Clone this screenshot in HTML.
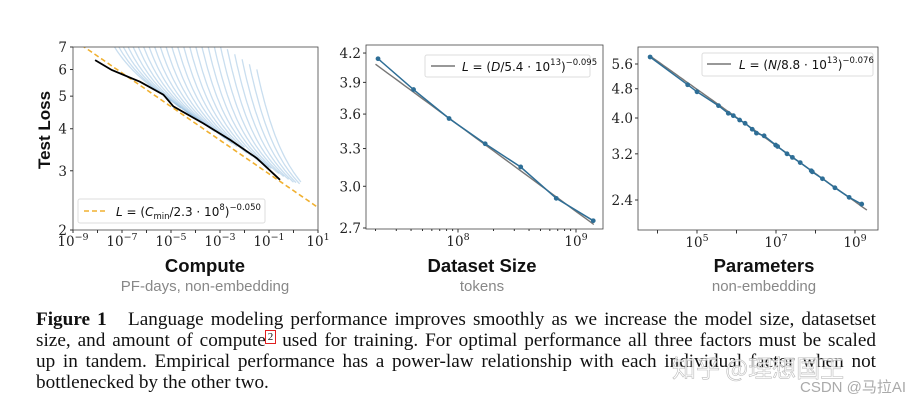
<!DOCTYPE html>
<html><head><meta charset="utf-8"><style>
body{margin:0;background:#fff;width:917px;height:402px;overflow:hidden;position:relative;font-family:"Liberation Sans",sans-serif}
svg{position:absolute;left:0;top:0}
.cap{position:absolute;left:36px;width:840px;font-family:"Liberation Serif",serif;font-size:19.2px;color:#111;white-space:nowrap;line-height:21px}
.j{text-align:justify;text-align-last:justify}
</style></head><body>
<svg id="s" width="917" height="402" font-family="DejaVu Serif, serif"></svg>
<div class="cap j" style="top:309px"><b>Figure 1</b>&nbsp;&nbsp; Language modeling performance improves smoothly as we increase the model size, datasetset</div>
<div class="cap j" style="top:330px">size, and amount of compute<span style="position:relative;top:-6px;font-size:11px;outline:1.5px solid #e02020;padding:0 2px">2</span> used for training. For optimal performance all three factors must be scaled</div>
<div class="cap j" style="top:351px">up in tandem. Empirical performance has a power-law relationship with each individual factor when not</div>
<div class="cap" style="top:372px">bottlenecked by the other two.</div>
<div style="position:absolute;left:672px;top:349px;font:24px 'Noto Sans CJK SC',sans-serif;color:rgba(255,255,255,0.75);-webkit-text-stroke:0.6px #bbb">知乎 @理想国王</div>
<div style="position:absolute;left:800px;top:376px;font:15px 'Liberation Sans','Noto Sans CJK SC',sans-serif;color:#aaa">CSDN @马拉AI</div>
<script>
// Panel 1 data
const frontierLogC=[-8.1,-7.42,-6.27,-5.31,-4.9,-3.68,-2.59,-1.5,-0.55];
const frontierLoss=[6.4,5.98,5.52,5.05,4.66,4.15,3.71,3.27,2.82];
const curveStart=[-8.7,-8.4,-8.1,-7.8,-7.5,-7.2,-6.9,-6.6,-6.3,-6.0,-5.7,-5.4,-5.1,-4.8,-4.5,-4.2,-3.9,-3.6,-3.3,-3.0,-2.7,-2.4,-2.1,-1.8,-1.5];
const curveEnd=[-5.5,-5.0,-4.6,-4.2,-3.9,-3.6,-3.2,-3.4,-2.8,-2.5,-2.3,-2.6,-1.9,-1.7,-1.4,-2.0,-1.0,-0.9,-0.6,-0.4,-0.2,0.0,0.1,0.25,0.3];
// Panel 2 data
const dataTokens=[2.1e7,4.2e7,8.4e7,1.7e8,3.4e8,6.8e8,1.4e9];
const dataLoss=[4.14,3.83,3.56,3.34,3.15,2.91,2.75];
// Panel 3 data
const paramN=[6.5e3,5.8e4,1e5,3.5e5,6.2e5,8.3e5,1.2e6,1.65e6,2.5e6,3.2e6,5e6,9.8e6,1.1e7,1.9e7,2.6e7,4.1e7,7.8e7,8.3e7,1.5e8,3.1e8,7.1e8,1.48e9];
const paramLoss=[5.85,4.92,4.71,4.32,4.12,4.06,3.95,3.87,3.73,3.64,3.58,3.38,3.35,3.2,3.13,3.03,2.88,2.86,2.74,2.59,2.44,2.34];

const S=document.getElementById('s');const NS='http://www.w3.org/2000/svg';
function el(t,a,txt){const e=document.createElementNS(NS,t);for(const k in a)e.setAttribute(k,a[k]);if(txt!==undefined)e.textContent=txt;S.appendChild(e);return e;}
function lin(pts){return pts.map((p,i)=>(i?'L':'M')+p[0].toFixed(1)+' '+p[1].toFixed(1)).join('');}
function sup(x,y,base,exp,name){const t=el('text',{x:x,y:y,'text-anchor':'middle','font-size':13.5,fill:'#222'});
 const a=document.createElementNS(NS,'tspan');a.textContent=base;t.appendChild(a);const b=document.createElementNS(NS,'tspan');b.setAttribute('dy','-6');b.setAttribute('font-size','9.5');b.textContent=exp;t.appendChild(b);}
function txt(x,y,s,o,name){const t=el('text',Object.assign({x:x,y:y},o),s);return t;}
function legend(x,y,parts,name){const t=el('text',{x:x,y:y,'font-family':'DejaVu Sans, sans-serif','font-size':12,fill:'#111'});
 parts.forEach(p=>{const s=document.createElementNS(NS,'tspan');s.textContent=p[0];
  if(p[1]=='i')s.setAttribute('font-style','italic');
  if(p[1]=='sub'){s.setAttribute('font-size','8.5');s.setAttribute('dy','3');}
  if(p[1]=='sup'){s.setAttribute('font-size','8.5');s.setAttribute('dy','-6');}
  if(p[1]=='back'){s.setAttribute('dy','-3');}
  if(p[1]=='down'){s.setAttribute('dy','6');}
  t.appendChild(s);});}

// ---------- Panel 1 ----------
const p1={l:73,r:318,t:47,b:230};
const x1=lc=>p1.l+(lc+9)/10*(p1.r-p1.l);
const y1=v=>p1.b-Math.log(v/2)/Math.log(3.5)*(p1.b-p1.t);
const cp=el('clipPath',{id:'c1'});const cr=document.createElementNS(NS,'rect');
cr.setAttribute('x',p1.l);cr.setAttribute('y',p1.t);cr.setAttribute('width',p1.r-p1.l);cr.setAttribute('height',p1.b-p1.t);cp.appendChild(cr);
const fit1=lc=>Math.pow(Math.pow(10,lc)/2.3e8,-0.05);
const g1=el('g',{'clip-path':'url(#c1)'});
for(let i=0;i<curveStart.length;i++){const pts=[];for(let c=curveStart[i];c<=curveEnd[i]+1e-6;c+=0.05){const L=fit1(c)*(1.03+0.9*Math.exp(-(c-curveStart[i])/0.7));pts.push([x1(c),y1(L)]);}
 const p=document.createElementNS(NS,'path');p.setAttribute('d',lin(pts));p.setAttribute('fill','none');p.setAttribute('stroke','rgba(100,160,210,0.35)');p.setAttribute('stroke-width','1.3');
 
 g1.appendChild(p);}
{const pts=[];for(let c=-9.2;c<=1;c+=0.1)pts.push([x1(c),y1(fit1(c))]);const p=document.createElementNS(NS,'path');p.setAttribute('d',lin(pts));p.setAttribute('fill','none');p.setAttribute('stroke','#f0b030');p.setAttribute('stroke-width','1.6');p.setAttribute('stroke-dasharray','5 3');
 
 g1.appendChild(p);}
{const p=document.createElementNS(NS,'path');p.setAttribute('d',lin(frontierLogC.map((c,i)=>[x1(c),y1(frontierLoss[i])])));p.setAttribute('fill','none');p.setAttribute('stroke','#000');p.setAttribute('stroke-width','1.8');
 
 g1.appendChild(p);}
el('rect',{x:p1.l,y:p1.t,width:p1.r-p1.l,height:p1.b-p1.t,fill:'none',stroke:'#444','stroke-width':0.8,});
[2,3,4,5,6,7].forEach(v=>{el('line',{x1:p1.l-3,x2:p1.l,y1:y1(v),y2:y1(v),stroke:'#333'});txt(p1.l-6,y1(v)+5,String(v),{'text-anchor':'end','font-size':13.5,fill:'#222'},'y-tick-compute');});
for(let d=-9;d<=1;d++){el('line',{x1:x1(d),x2:x1(d),y1:p1.b,y2:p1.b+3,stroke:'#333'});if((d+9)%2==0)sup(x1(d),p1.b+16,'10',String(d).replace('-','\u2212'),'x-tick-compute');}
el('rect',{x:78,y:199,width:187,height:24,fill:'#fff',stroke:'#ddd',rx:2,});
el('line',{x1:84,x2:108,y1:211,y2:211,stroke:'#f0b030','stroke-width':1.6,'stroke-dasharray':'5 3'});
legend(116,216,[['L','i'],[' = (','n'],['C','i'],['min','sub'],['/2.3 · 10','back'],['8','sup'],[')','down'],['\u22120.050','sup']],'legend-text-compute');
txt(50,130,'Test Loss',{'font-family':'Liberation Sans, sans-serif','font-size':17,'font-weight':'bold','text-anchor':'middle',transform:'rotate(-90 50 130)',fill:'#111'},'y-axis-title');
txt(205,272,'Compute',{'font-family':'Liberation Sans, sans-serif','font-size':18.5,'font-weight':'bold','text-anchor':'middle',fill:'#111'},'x-axis-title-compute');
txt(205,291,'PF-days, non-embedding',{'font-family':'Liberation Sans, sans-serif','font-size':15,'text-anchor':'middle',fill:'#888'},'x-axis-subtitle-compute');

// ---------- Panel 2 ----------
const p2={l:366,r:603,t:45,b:229};
const x2=v=>458+(Math.log10(v)-8)*118;
const y2=v=>228-Math.log(v/2.7)*396;
el('rect',{x:p2.l,y:p2.t,width:p2.r-p2.l,height:p2.b-p2.t,fill:'none',stroke:'#444','stroke-width':0.8,});
{const pts=[];for(let l=Math.log10(2e7);l<=Math.log10(1.45e9);l+=0.05){const D=Math.pow(10,l);pts.push([x2(D),y2(Math.pow(D/5.4e13,-0.095))]);}el('path',{d:lin(pts),fill:'none',stroke:'#777','stroke-width':1.4,});}
el('path',{d:lin(dataTokens.map((d,i)=>[x2(d),y2(dataLoss[i])])),fill:'none',stroke:'#2e6e96','stroke-width':1.5,});
dataTokens.forEach((d,i)=>{el('circle',{cx:x2(d),cy:y2(dataLoss[i]),r:2.4,fill:'#2e6e96',});});
[2.7,3.0,3.3,3.6,3.9,4.2].forEach(v=>{el('line',{x1:p2.l-3,x2:p2.l,y1:y2(v),y2:y2(v),stroke:'#333'});txt(p2.l-5,y2(v)+5,v.toFixed(1),{'text-anchor':'end','font-size':13.5,fill:'#222'},'y-tick-dataset');});
for(let e=7;e<=9;e++)for(let m=1;m<10;m++){const v=m*Math.pow(10,e);const x=x2(v);if(x<p2.l||x>p2.r)continue;el('line',{x1:x,x2:x,y1:p2.b,y2:p2.b+(m==1?3.5:2),stroke:'#333'});if(m==1)sup(x,p2.b+17,'10',String(e),'x-tick-dataset');}
el('rect',{x:425,y:55,width:165,height:22,fill:'#fff',stroke:'#ddd',rx:2,});
el('line',{x1:431,x2:455,y1:66,y2:66,stroke:'#777','stroke-width':1.4});
legend(462,71,[['L','i'],[' = (','n'],['D','i'],['/5.4 · 10','n'],['13','sup'],[')','down'],['\u22120.095','sup']],'legend-text-dataset');
txt(482,272,'Dataset Size',{'font-family':'Liberation Sans, sans-serif','font-size':18.5,'font-weight':'bold','text-anchor':'middle',fill:'#111'},'x-axis-title-dataset');
txt(482,291,'tokens',{'font-family':'Liberation Sans, sans-serif','font-size':15,'text-anchor':'middle',fill:'#888'},'x-axis-subtitle-dataset');

// ---------- Panel 3 ----------
const p3={l:638,r:878,t:47,b:230};
const x3=v=>697+(Math.log10(v)-5)*39.5;
const y3=v=>200-Math.log(v/2.4)*160.5;
el('rect',{x:p3.l,y:p3.t,width:p3.r-p3.l,height:p3.b-p3.t,fill:'none',stroke:'#444','stroke-width':0.8,});
{const pts=[];for(let l=3.8;l<=9.33;l+=0.05){const N=Math.pow(10,l);pts.push([x3(N),y3(Math.pow(N/8.8e13,-0.076))]);}el('path',{d:lin(pts),fill:'none',stroke:'#777','stroke-width':1.4,});}
el('path',{d:lin(paramN.map((n,i)=>[x3(n),y3(paramLoss[i])])),fill:'none',stroke:'#2e6e96','stroke-width':1.5,});
paramN.forEach((n,i)=>{el('circle',{cx:x3(n),cy:y3(paramLoss[i]),r:2.4,fill:'#2e6e96',});});
[2.4,3.2,4.0,4.8,5.6].forEach(v=>{el('line',{x1:p3.l-3,x2:p3.l,y1:y3(v),y2:y3(v),stroke:'#333'});txt(p3.l-5,y3(v)+5,v.toFixed(1),{'text-anchor':'end','font-size':13.5,fill:'#222'},'y-tick-params');});
for(let e=4;e<=9;e++){const x=x3(Math.pow(10,e));el('line',{x1:x,x2:x,y1:p3.b,y2:p3.b+3.5,stroke:'#333'});if(e%2)sup(x,p3.b+17,'10',String(e),'x-tick-params');}
el('rect',{x:702,y:53,width:171,height:23,fill:'#fff',stroke:'#ddd',rx:2,});
el('line',{x1:707,x2:731,y1:64,y2:64,stroke:'#777','stroke-width':1.4});
legend(739,69,[['L','i'],[' = (','n'],['N','i'],['/8.8 · 10','n'],['13','sup'],[')','down'],['\u22120.076','sup']],'legend-text-params');
txt(764,272,'Parameters',{'font-family':'Liberation Sans, sans-serif','font-size':18.5,'font-weight':'bold','text-anchor':'middle',fill:'#111'},'x-axis-title-params');
txt(764,291,'non-embedding',{'font-family':'Liberation Sans, sans-serif','font-size':15,'text-anchor':'middle',fill:'#888'},'x-axis-subtitle-params');
</script>
</body></html>
